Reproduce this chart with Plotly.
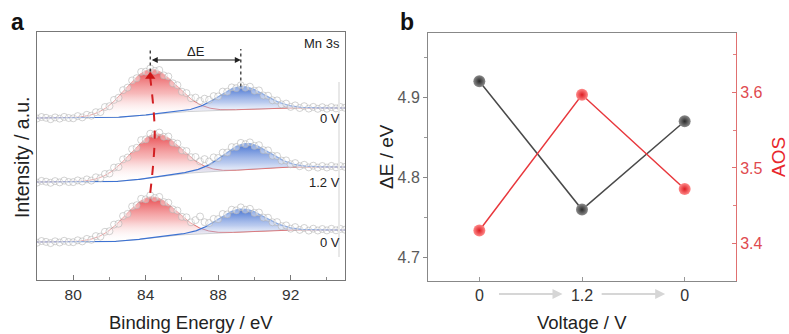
import numpy as np
import plotly.graph_objects as go

# ---------------- panel a : Mn 3s XPS ----------------
energy_start, energy_stop, energy_step = 78.0, 95.0, 0.25
spectrum_labels = ["0 V", "1.2 V", "0 V"]          # top, middle, bottom

raw_top = [161.5, 163.0, 162.2, 160.8, 162.6, 161.4, 163.1, 162.0, 161.7, 163.9, 162.6, 165.2,
           164.3, 167.8, 167.9, 173.0, 173.8, 180.1, 182.2, 189.9, 192.4, 199.6, 201.8, 208.1,
           208.3, 211.6, 209.1, 210.0, 204.6, 203.5, 196.7, 194.8, 188.3, 186.9, 181.8, 182.4,
           179.0, 181.3, 180.2, 183.9, 183.6, 188.4, 188.3, 192.6, 191.8, 194.7, 192.2, 193.3,
           189.2, 189.6, 184.5, 184.3, 179.7, 179.6, 175.6, 176.4, 173.1, 174.6, 172.0, 173.8,
           171.4, 173.1, 171.2, 172.8, 171.3, 172.9, 171.6, 173.0, 172.2]
raw_mid = [97.4, 99.1, 98.3, 97.2, 98.9, 97.6, 99.4, 98.0, 97.9, 99.6, 98.5, 100.6,
           99.4, 102.7, 101.8, 106.0, 106.5, 112.4, 113.0, 120.6, 122.5, 130.8, 132.2, 139.9,
           140.6, 146.3, 145.1, 147.4, 143.2, 143.5, 137.3, 136.4, 129.6, 128.9, 122.8, 123.0,
           118.6, 120.9, 118.5, 122.6, 122.0, 127.4, 127.5, 132.9, 133.0, 137.1, 135.8, 137.6,
           134.1, 134.8, 129.8, 129.6, 124.3, 124.0, 119.4, 119.6, 115.7, 116.9, 113.8, 115.2,
           112.6, 114.3, 112.4, 114.0, 112.5, 114.1, 112.7, 113.9, 113.1]
raw_bot = [37.3, 39.0, 38.1, 36.9, 38.7, 37.5, 39.2, 38.0, 37.8, 39.7, 38.6, 41.1,
           40.2, 43.9, 43.4, 48.2, 48.8, 55.4, 56.3, 64.0, 66.1, 73.5, 74.8, 81.2,
           80.6, 84.7, 82.0, 83.1, 77.9, 77.3, 70.6, 69.4, 63.2, 62.7, 57.7, 59.9,
           63.5, 57.8, 57.0, 61.1, 60.9, 66.0, 65.6, 70.3, 69.6, 72.6, 70.2, 71.2,
           67.1, 67.5, 62.4, 62.3, 57.7, 57.9, 53.8, 54.6, 51.3, 52.9, 50.1, 52.0,
           49.4, 51.3, 49.5, 51.0, 49.6, 51.2, 49.7, 51.1, 50.3]

# fit parameters (top, middle, bottom)
baseline_left = [162, 98, 38]
baseline_right = [172, 113, 50]
peak1_center = [84.25, 84.5, 84.25]
peak1_height = [45, 43, 41]
peak1_sigma = [1.40, 1.40, 1.40]
peak2_center = [89.25, 89.5, 89.25]
peak2_height = [23, 26, 23]
peak2_sigma = [1.27, 1.27, 1.27]

# ---------------- panel b ----------------
voltage_labels = ["0", "1.2", "0"]
delta_e = [4.92, 4.76, 4.87]
aos = [3.417, 3.597, 3.472]

FONT = "Liberation Sans, Arial, sans-serif"
W, H = 789, 334

fig = go.Figure()

E_raw = np.round(np.arange(energy_start, energy_stop + 1e-9, energy_step), 2)
E_fit = np.arange(energy_start, energy_stop + 1e-9, 0.05)
raws = [raw_top, raw_mid, raw_bot]

red_grad = dict(type="vertical",
                colorscale=[[0, "rgba(255,255,255,0)"], [0.5, "rgba(240,130,132,0.55)"],
                            [1, "rgba(230,55,60,0.92)"]])
blue_grad = dict(type="vertical",
                 colorscale=[[0, "rgba(255,255,255,0)"], [0.5, "rgba(130,160,225,0.55)"],
                             [1, "rgba(50,100,205,0.92)"]])

tops = []
for i in range(3):
    r = peak1_height[i] * np.exp(-(E_fit - peak1_center[i]) ** 2 / (2 * peak1_sigma[i] ** 2))
    b = peak2_height[i] * np.exp(-(E_fit - peak2_center[i]) ** 2 / (2 * peak2_sigma[i] ** 2))
    cum = np.cumsum(r + b)
    bg = baseline_left[i] + (baseline_right[i] - baseline_left[i]) * cum / cum[-1]
    env = bg + r + b
    idx = int(np.argmin(np.abs(E_fit - peak1_center[i])))
    tops.append(env[idx])
    idx2 = int(np.argmin(np.abs(E_fit - peak2_center[i])))
    if i == 0:
        top_blue0 = env[idx2]
    fig.add_trace(go.Scatter(x=E_fit, y=bg, mode="lines",
                             line=dict(color="#d0d0d0", width=1), hoverinfo="skip"))
    fig.add_trace(go.Scatter(x=E_fit, y=bg + r, mode="lines",
                             line=dict(color="#e07070", width=1),
                             fill="tonexty", fillgradient=red_grad, hoverinfo="skip"))
    fig.add_trace(go.Scatter(x=E_fit, y=bg, mode="lines",
                             line=dict(color="rgba(0,0,0,0)", width=0), hoverinfo="skip"))
    fig.add_trace(go.Scatter(x=E_fit, y=bg + b, mode="lines",
                             line=dict(color="#3d72d2", width=1.2),
                             fill="tonexty", fillgradient=blue_grad, hoverinfo="skip"))
    fig.add_trace(go.Scatter(x=E_raw, y=raws[i], mode="markers",
                             marker=dict(symbol="circle", size=7,
                                         color="rgba(255,255,255,0.4)",
                                         line=dict(color="rgba(175,175,175,0.7)", width=0.8))))

# red dashed shift arrow through red peak maxima (bottom -> middle -> top)
fig.add_trace(go.Scatter(x=[peak1_center[2], peak1_center[1], peak1_center[0]],
                         y=[tops[2] + 4, tops[1], tops[0] - 8],
                         mode="lines", line=dict(color="#d21f22", width=2, dash="dash", shape="spline"),
                         hoverinfo="skip"))
fig.add_trace(go.Scatter(x=[peak1_center[0]], y=[tops[0] - 7], mode="markers",
                         marker=dict(symbol="triangle-up", size=9, color="#cc1515"),
                         hoverinfo="skip"))

# ---------------- panel b traces ----------------
xcat = list(range(len(voltage_labels)))
fig.add_trace(go.Scatter(x=xcat, y=delta_e, mode="lines+markers", xaxis="x2", yaxis="y2",
                         line=dict(color="#4a4a4a", width=1.5),
                         marker=dict(size=12, color="#8c8c8c",
                                     gradient=dict(type="radial", color="#2a2a2a"),
                                     line=dict(width=0))))
fig.add_trace(go.Scatter(x=xcat, y=aos, mode="lines+markers", xaxis="x2", yaxis="y3",
                         line=dict(color="#e8383d", width=1.5),
                         marker=dict(size=12, color="#ff8a8a",
                                     gradient=dict(type="radial", color="#dc1c22"),
                                     line=dict(width=0))))

ax_a = [37 / W, 345 / W]
ay_a = [(H - 280) / H, (H - 32) / H]
ax_b = [428 / W, 736 / W]
ay_b = [(H - 281) / H, (H - 33) / H]

tickfont = dict(family=FONT, size=15.5, color="#333")

fig.update_layout(
    width=W, height=H, margin=dict(l=0, r=0, t=0, b=0),
    paper_bgcolor="white", plot_bgcolor="white", showlegend=False,
    font=dict(family=FONT),
    xaxis=dict(domain=ax_a, range=[78, 95], tickvals=[80, 84, 88, 92], ticks="inside",
               ticklen=5, tickcolor="#777", showline=True, linecolor="#777", linewidth=1,
               mirror=True, showgrid=False, zeroline=False, tickfont=tickfont,
               minor=dict(tickvals=[82, 86, 90, 94], ticks="inside", ticklen=3, tickcolor="#888")),
    yaxis=dict(domain=ay_a, range=[0, 248], showticklabels=False, ticks="",
               showline=True, linecolor="#777", linewidth=1, mirror=True,
               showgrid=False, zeroline=False),
    xaxis2=dict(domain=ax_b, anchor="y2", range=[-0.5, 2.5], tickvals=xcat, ticktext=voltage_labels,
                ticks="inside", ticklen=4, tickcolor="#999", showline=True, linecolor="#888",
                linewidth=1, mirror=True, showgrid=False, zeroline=False,
                tickfont=dict(family=FONT, size=16, color="#333")),
    yaxis2=dict(domain=ay_b, anchor="x2", range=[4.671, 4.98], tickvals=[4.7, 4.8, 4.9],
                ticks="outside", ticklen=4, tickcolor="#888", showline=True, linecolor="#888",
                linewidth=1, showgrid=False, zeroline=False,
                tickfont=dict(family=FONT, size=16, color="#5a5a5a"),
                minor=dict(tickvals=[4.75, 4.85, 4.95], ticks="outside", ticklen=3, tickcolor="#999")),
    yaxis3=dict(domain=ay_b, anchor="x2", overlaying="y2", side="right", range=[3.35, 3.679],
                tickvals=[3.4, 3.5, 3.6], ticks="inside", ticklen=4, tickcolor="#e07070",
                showline=True, linecolor="#e07070", linewidth=1, showgrid=False, zeroline=False,
                tickfont=dict(family=FONT, size=16, color="#e04a4f"),
                minor=dict(tickvals=[3.45, 3.55, 3.65], ticks="inside", ticklen=3, tickcolor="#e08080")),
)

# faint vertical bar at right of panel a
fig.add_shape(type="line", xref="x", yref="y", x0=94.67, x1=94.67, y0=23, y1=198,
              line=dict(color="#e8e8e8", width=2))

# Delta E markers
fig.add_shape(type="line", xref="x", yref="y", x0=peak1_center[0], x1=peak1_center[0],
              y0=tops[0] - 2, y1=231, line=dict(color="#222", width=1.2, dash="dot"))
fig.add_shape(type="line", xref="x", yref="y", x0=peak2_center[0], x1=peak2_center[0],
              y0=top_blue0, y1=231, line=dict(color="#222", width=1.2, dash="dot"))

ann = []
ann.append(dict(x=peak2_center[0], y=220, xref="x", yref="y", ax=peak1_center[0], ay=220,
                axref="x", ayref="y", text="", showarrow=True, arrowhead=2, arrowside="end+start",
                arrowsize=1, arrowwidth=1.2, arrowcolor="#222", standoff=0, startstandoff=0))
ann.append(dict(x=(peak1_center[0] + peak2_center[0]) / 2, y=228, xref="x", yref="y",
                xanchor="center", yanchor="middle",
                text="ΔE", showarrow=False, font=dict(family=FONT, size=13, color="#222")))
ann.append(dict(x=94.85, y=236, xref="x", yref="y", text="Mn 3s", showarrow=False,
                xanchor="right", yanchor="middle", font=dict(family=FONT, size=13, color="#222")))
for i in range(3):
    ann.append(dict(x=94.85, y=baseline_left[i], xref="x", yref="y", text=spectrum_labels[i],
                    showarrow=False, xanchor="right", yanchor="middle",
                    font=dict(family=FONT, size=13, color="#222")))


def title(x, y, text, size, color="#222", angle=0):
    return dict(x=x / W, y=(H - y) / H, xref="paper", yref="paper", text=text,
                textangle=angle, showarrow=False, xanchor="center", yanchor="middle",
                font=dict(family=FONT, size=size, color=color))


ann.append(title(22, 158, "Intensity / a.u.", 19.5, angle=-90))
ann.append(title(191, 322, "Binding Energy / eV", 18.5))
ann.append(title(582, 322, "Voltage / V", 18.5))
ann.append(title(386, 157, "ΔE / eV", 19, angle=-90))
ann.append(title(778, 157, "AOS", 19, color="#e8262c", angle=-90))
ann.append(title(17, 22, "<b>a</b>", 23, color="#111"))
ann.append(title(407, 22, "<b>b</b>", 23, color="#111"))

# light process arrows between voltage ticks
for k in range(len(xcat) - 1):
    ann.append(dict(x=xcat[k] + 0.81, y=(H - 294) / H, xref="x2", yref="paper",
                    ax=-65, ay=0, text="", showarrow=True, arrowhead=2, arrowsize=1,
                    arrowwidth=2, arrowcolor="#d6d6d6"))

fig.update_layout(annotations=ann)
fig.write_html("out.html")
